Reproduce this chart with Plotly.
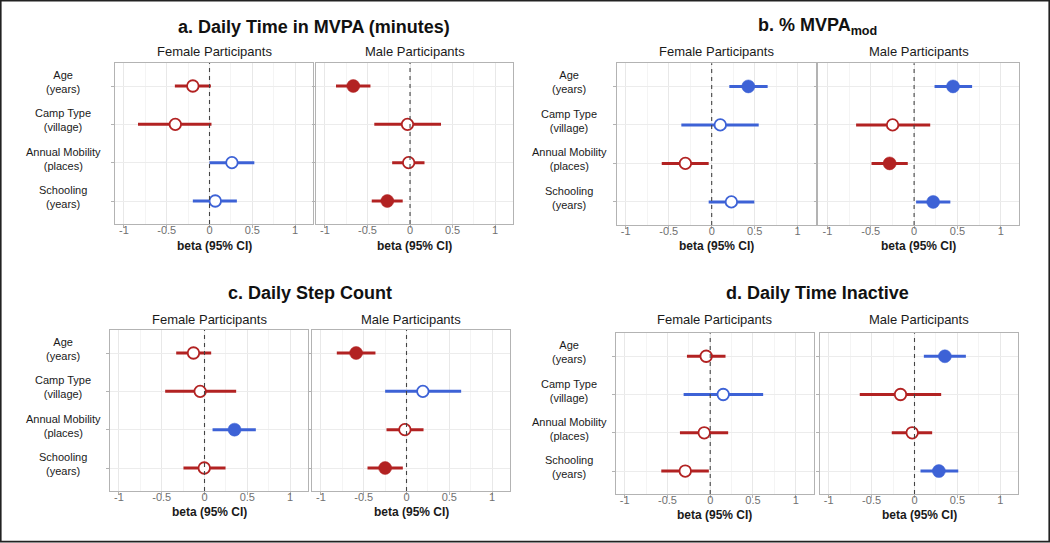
import plotly.graph_objects as go

W, H = 1050, 543

# ---------------- data ----------------
predictors = ["Age", "Camp Type", "Annual Mobility", "Schooling"]
predictor_labels = ["Age<br>(years)", "Camp Type<br>(village)", "Annual Mobility<br>(places)", "Schooling<br>(years)"]
x_tickvals = [-1, -0.5, 0, 0.5, 1]
x_ticktext = ["-1", "-0.5", "0", "0.5", "1"]
facet_names = ["Female Participants", "Male Participants"]
panel_titles = ["<b>a. Daily Time in MVPA (minutes)</b>",
                "<b>b. % MVPA<sub>mod</sub></b>",
                "<b>c. Daily Step Count</b>",
                "<b>d. Daily Time Inactive</b>"]
x_title = "<b>beta (95% CI)</b>"

# a. Daily time in MVPA
a_f_est = [-0.195, -0.40, 0.262, 0.067]
a_f_lo = [-0.405, -0.836, 0.0, -0.195]
a_f_hi = [0.016, 0.023, 0.524, 0.32]
a_f_sig = [0, 0, 0, 0]
a_m_est = [-0.667, -0.03, -0.016, -0.267]
a_m_lo = [-0.87, -0.42, -0.21, -0.45]
a_m_hi = [-0.465, 0.364, 0.17, -0.086]
a_m_sig = [1, 0, 0, 1]
# b. % MVPA mod
b_f_est = [0.426, 0.10, -0.306, 0.229]
b_f_lo = [0.205, -0.353, -0.581, -0.035]
b_f_hi = [0.651, 0.547, -0.035, 0.496]
b_f_sig = [1, 0, 0, 0]
b_m_est = [0.449, -0.248, -0.282, 0.22]
b_m_lo = [0.236, -0.669, -0.491, 0.023]
b_m_hi = [0.669, 0.186, -0.073, 0.418]
b_m_sig = [1, 0, 1, 1]
# c. Daily step count
c_f_est = [-0.129, -0.051, 0.351, -0.003]
c_f_lo = [-0.331, -0.46, 0.094, -0.246]
c_f_hi = [0.078, 0.37, 0.60, 0.246]
c_f_sig = [0, 0, 1, 0]
c_m_est = [-0.589, 0.191, -0.019, -0.25]
c_m_lo = [-0.815, -0.25, -0.234, -0.456]
c_m_hi = [-0.363, 0.639, 0.199, -0.043]
c_m_sig = [1, 0, 0, 1]
# d. Daily time inactive
d_f_est = [-0.047, 0.152, -0.07, -0.292]
d_f_lo = [-0.272, -0.311, -0.354, -0.572]
d_f_hi = [0.179, 0.619, 0.21, -0.016]
d_f_sig = [0, 0, 0, 0]
d_m_est = [0.354, -0.163, -0.027, 0.284]
d_m_lo = [0.109, -0.638, -0.265, 0.07]
d_m_hi = [0.599, 0.311, 0.206, 0.51]
d_m_sig = [1, 0, 0, 1]

facet_data = [
    [(a_f_est, a_f_lo, a_f_hi, a_f_sig), (a_m_est, a_m_lo, a_m_hi, a_m_sig)],
    [(b_f_est, b_f_lo, b_f_hi, b_f_sig), (b_m_est, b_m_lo, b_m_hi, b_m_sig)],
    [(c_f_est, c_f_lo, c_f_hi, c_f_sig), (c_m_est, c_m_lo, c_m_hi, c_m_sig)],
    [(d_f_est, d_f_lo, d_f_hi, d_f_sig), (d_m_est, d_m_lo, d_m_hi, d_m_sig)],
]

# ---------------- layout geometry (pixels) ----------------
geom = [
    dict(f=(115, 313), m=(316, 513), y=(63, 224), title_y=27, strip_y=52, lab_x=63, xt_y=246),
    dict(f=(616.7, 815.7), m=(818.3, 1019), y=(63.3, 225), title_y=27, strip_y=52, lab_x=569, xt_y=246),
    dict(f=(110, 308), m=(312, 510), y=(330, 491), title_y=293, strip_y=319, lab_x=63, xt_y=512),
    dict(f=(615.7, 813.7), m=(819.7, 1018.3), y=(333.3, 494), title_y=293, strip_y=319, lab_x=569, xt_y=515),
]

RED = "#B22222"
BLUE = "#3D62D6"
FONT = "Liberation Sans, Arial, Helvetica, sans-serif"
XRANGE = [-1.105, 1.21]


def px_x(v):
    return v / W


def px_y(v):
    return 1 - v / H


fig = go.Figure()
layout = dict(width=W, height=H, margin=dict(l=0, r=0, t=0, b=0),
              paper_bgcolor="white", plot_bgcolor="white", showlegend=False,
              font=dict(family=FONT, color="#1a1a1a"))
annotations = []
shapes = []

idx = 0
for p, g in enumerate(geom):
    for s, key in enumerate(["f", "m"]):
        idx += 1
        xa = "xaxis" if idx == 1 else f"xaxis{idx}"
        ya = "yaxis" if idx == 1 else f"yaxis{idx}"
        xr = "x" if idx == 1 else f"x{idx}"
        yr = "y" if idx == 1 else f"y{idx}"
        x0, x1 = g[key]
        layout[xa] = dict(domain=[px_x(x0), px_x(x1)], anchor=yr, range=XRANGE,
                          tickvals=x_tickvals, ticktext=x_ticktext,
                          tickfont=dict(size=11, color="#707070", family=FONT),
                          ticks="outside", ticklen=3, tickcolor="#b3b3b3", tickwidth=1,
                          ticklabelstandoff=-7,
                          showgrid=True, gridcolor="#e8e8e8", gridwidth=1,
                          minor=dict(tickvals=[-0.75, -0.25, 0.25, 0.75], showgrid=True,
                                     gridcolor="#f4f4f4", gridwidth=1, ticks=""),
                          zeroline=False, showline=True, mirror=True,
                          linecolor="#b3b3b3", linewidth=1, fixedrange=True)
        layout[ya] = dict(domain=[px_y(g["y"][1]), px_y(g["y"][0])], anchor=xr,
                          type="category", categoryorder="array", categoryarray=predictors,
                          range=[3.6, -0.6], showticklabels=False,
                          ticks="outside", ticklen=3, tickcolor="#b3b3b3", tickwidth=1,
                          showgrid=True, gridcolor="#ececec", gridwidth=1,
                          zeroline=False, showline=True, mirror=True,
                          linecolor="#b3b3b3", linewidth=1, fixedrange=True)

        est, lo, hi, sig = facet_data[p][s]
        for color, cond in [(RED, lambda v: v < 0), (BLUE, lambda v: v >= 0)]:
            ii = [i for i in range(4) if cond(est[i])]
            if not ii:
                continue
            fig.add_trace(go.Scatter(
                x=[est[i] for i in ii], y=[predictors[i] for i in ii],
                xaxis=xr, yaxis=yr, mode="markers",
                error_x=dict(type="data", symmetric=False,
                             array=[hi[i] - est[i] for i in ii],
                             arrayminus=[est[i] - lo[i] for i in ii],
                             color=color, thickness=3, width=0),
                marker=dict(symbol="circle", opacity=1,
                            size=[13 if sig[i] else 11.5 for i in ii],
                            color=[color if sig[i] else "white" for i in ii],
                            line=dict(color=color, width=[0.5 if sig[i] else 1.8 for i in ii])),
                hoverinfo="x+y"))

        # dashed reference line at 0
        shapes.append(dict(type="line", xref=xr, yref=f"{yr} domain", x0=0, x1=0, y0=0, y1=1,
                           line=dict(color="#444444", width=1.1, dash="4px,4px"), layer="above"))
        # strip title
        annotations.append(dict(text=facet_names[s], xref="paper", yref="paper",
                                x=px_x((x0 + x1) / 2), y=px_y(g["strip_y"]),
                                xanchor="center", yanchor="middle", showarrow=False,
                                font=dict(size=13, color="#1a1a1a", family=FONT)))
        # x axis title
        annotations.append(dict(text=x_title, xref="paper", yref="paper",
                                x=px_x((x0 + x1) / 2), y=px_y(g["xt_y"]),
                                xanchor="center", yanchor="middle", showarrow=False,
                                font=dict(size=12, color="#1a1a1a", family=FONT)))
        if s == 0:
            for k, lab in enumerate(predictor_labels):
                annotations.append(dict(text=lab, xref="paper", yref=yr,
                                        x=px_x(g["lab_x"]), y=predictors[k], yshift=4,
                                        xanchor="center", yanchor="middle", align="center",
                                        showarrow=False,
                                        font=dict(size=11, color="#1a1a1a", family=FONT)))
    # panel title
    annotations.append(dict(text=panel_titles[p], xref="paper", yref="paper",
                            x=px_x((g["f"][0] + g["m"][1]) / 2), y=px_y(g["title_y"]),
                            xanchor="center", yanchor="middle", showarrow=False,
                            font=dict(size=18, color="#111111", family=FONT)))

# outer border
shapes.append(dict(type="rect", xref="paper", yref="paper",
                   x0=px_x(0.8), x1=px_x(1049.2), y0=px_y(541.6), y1=px_y(0.8),
                   line=dict(color="#222222", width=1.6), fillcolor="rgba(0,0,0,0)", layer="above"))

layout["annotations"] = annotations
layout["shapes"] = shapes
fig.update_layout(**layout)

fig.write_html("out.html", config={"displayModeBar": False},
               post_script="document.body.style.margin='0';document.body.style.padding='0';")
